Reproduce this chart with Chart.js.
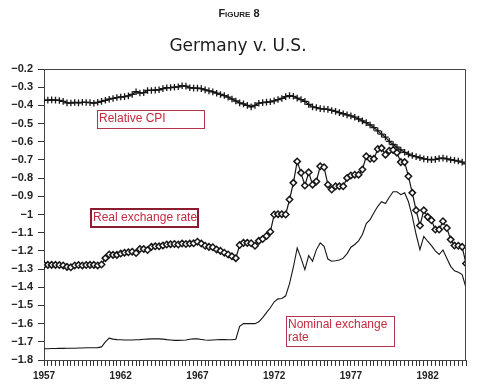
<!DOCTYPE html>
<html>
<head>
<meta charset="utf-8">
<script src="https://cdn.jsdelivr.net/npm/chart.js@4.4.1/dist/chart.umd.min.js"></script>
<style>
  html, body { margin: 0; padding: 0; background: #fff; }
  #wrap { width: 480px; height: 390px; position: relative; }
</style>
</head>
<body>
<div id="wrap"><canvas id="chart"></canvas></div>
<script>
// quarterly series, 1957Q1 .. 1984Q3 (log scale values)
const startYear = 1957;
const perYear = 4;

const relativeCpi = [
  -0.372, -0.371, -0.370, -0.371, -0.373, -0.378, -0.386, -0.387, -0.384, -0.386,
  -0.383, -0.384, -0.385, -0.388, -0.383, -0.378, -0.372, -0.366, -0.362, -0.357,
  -0.354, -0.352, -0.348, -0.340, -0.325, -0.332, -0.330, -0.318, -0.318, -0.316,
  -0.314, -0.308, -0.303, -0.302, -0.300, -0.298, -0.292, -0.294, -0.303, -0.305,
  -0.305, -0.308, -0.315, -0.320, -0.326, -0.333, -0.340, -0.346, -0.355, -0.365,
  -0.376, -0.386, -0.392, -0.400, -0.408, -0.400, -0.388, -0.385, -0.382, -0.380,
  -0.375, -0.368, -0.362, -0.352, -0.346, -0.350, -0.360, -0.368, -0.378, -0.395,
  -0.408, -0.412, -0.418, -0.420, -0.422, -0.428, -0.433, -0.440, -0.446, -0.452,
  -0.458, -0.465, -0.475, -0.485, -0.495, -0.508, -0.522, -0.540, -0.558, -0.575,
  -0.598, -0.615, -0.630, -0.645, -0.658, -0.668, -0.676, -0.682, -0.688, -0.694,
  -0.697, -0.699, -0.697, -0.692, -0.690, -0.694, -0.699, -0.702, -0.706, -0.712, -0.722
];

const realRate = [
  -1.277, -1.277, -1.277, -1.277, -1.278, -1.280, -1.288, -1.290, -1.280, -1.278,
  -1.280, -1.278, -1.277, -1.277, -1.280, -1.275, -1.240, -1.220, -1.222, -1.222,
  -1.215, -1.210, -1.208, -1.205, -1.212, -1.190, -1.190, -1.195, -1.178, -1.175,
  -1.175, -1.170, -1.165, -1.163, -1.162, -1.165, -1.160, -1.162, -1.160, -1.158,
  -1.150, -1.160, -1.172, -1.178, -1.180, -1.192, -1.200, -1.210, -1.220, -1.230,
  -1.240, -1.168, -1.156, -1.156, -1.158, -1.172, -1.145, -1.135, -1.118, -1.095,
  -1.000, -0.998, -0.998, -1.000, -0.918, -0.826, -0.708, -0.771, -0.841, -0.768,
  -0.836, -0.818, -0.735, -0.740, -0.836, -0.863, -0.845, -0.845, -0.845, -0.799,
  -0.785, -0.781, -0.781, -0.753, -0.680, -0.694, -0.694, -0.640, -0.635, -0.671,
  -0.649, -0.645, -0.660, -0.712, -0.712, -0.790, -0.881, -0.977, -1.061, -0.977,
  -1.013, -1.032, -1.083, -1.083, -1.037, -1.074, -1.138, -1.171, -1.172, -1.178, -1.270
];

const nominalRate = [
  -1.738, -1.738, -1.737, -1.737, -1.736, -1.736, -1.735, -1.735, -1.735, -1.734,
  -1.734, -1.733, -1.733, -1.733, -1.732, -1.728, -1.700, -1.680, -1.685, -1.688,
  -1.689, -1.690, -1.690, -1.690, -1.689, -1.688, -1.686, -1.685, -1.684, -1.684,
  -1.684, -1.685, -1.688, -1.690, -1.692, -1.692, -1.691, -1.690, -1.686, -1.684,
  -1.684, -1.687, -1.690, -1.691, -1.690, -1.689, -1.688, -1.688, -1.689, -1.689,
  -1.686, -1.615, -1.600, -1.600, -1.600, -1.600, -1.590, -1.567, -1.540, -1.513,
  -1.480, -1.464, -1.462, -1.447, -1.380, -1.290, -1.184, -1.240, -1.303, -1.226,
  -1.257, -1.193, -1.156, -1.175, -1.245, -1.257, -1.254, -1.250, -1.240, -1.215,
  -1.180, -1.165, -1.145, -1.110, -1.050, -1.028, -0.990, -0.955, -0.930, -0.940,
  -0.905, -0.875, -0.875, -0.891, -0.880, -0.930, -1.010, -1.110, -1.193, -1.120,
  -1.147, -1.171, -1.200, -1.220, -1.195, -1.240, -1.285, -1.310, -1.318, -1.330, -1.403
];

const yearLabels = [1957, 1962, 1967, 1972, 1977, 1982];

const quarters = relativeCpi.map((_, i) => startYear + i / perYear);
const toPoints = (values) => values.map((v, i) => ({ x: quarters[i], y: v }));

const ink = '#161616';
const noteRed = '#c42a40';

const minus = (n) => String(n).replace('-', '\u2212');

// text boxes, anchored by their top-left corner in data units
const notes = [
  { lines: ['Relative CPI'], year: 1960.46, value: -0.428, w: 107, h: 18, lw: 1, edge: '#b2344a' },
  { lines: ['Real exchange rate'], year: 1960.07, value: -0.971, w: 107, h: 18, lw: 2, edge: '#8c1c2e' },
  { lines: ['Nominal exchange', 'rate'], year: 1972.79, value: -1.558, w: 108, h: 30, lw: 1, edge: '#b2344a' }
];

const decorations = {
  id: 'decorations',
  afterDraw(chart) {
    const { ctx, chartArea: a, scales: { x, y } } = chart;
    ctx.save();

    // top and right frame
    ctx.strokeStyle = '#444';
    ctx.lineWidth = 1;
    ctx.beginPath();
    ctx.moveTo(a.left, a.top + 0.5);
    ctx.lineTo(a.right - 0.5, a.top + 0.5);
    ctx.lineTo(a.right - 0.5, a.bottom);
    ctx.stroke();

    // "Figure 8" in small caps
    ctx.fillStyle = '#222';
    ctx.textBaseline = 'alphabetic';
    const big = 'bold 11px "Liberation Sans", Arial, sans-serif';
    const small = 'bold 8px "Liberation Sans", Arial, sans-serif';
    const parts = [['F', big], ['IGURE', small], [' 8', big]];
    let total = 0;
    parts.forEach(([t, f]) => { ctx.font = f; total += ctx.measureText(t).width; });
    let cx = 239 - total / 2;
    parts.forEach(([t, f]) => {
      ctx.font = f;
      ctx.textAlign = 'left';
      ctx.fillText(t, cx, 17);
      cx += ctx.measureText(t).width;
    });

    // main title
    ctx.font = '17px "DejaVu Sans", sans-serif';
    ctx.textAlign = 'center';
    ctx.fillStyle = '#1a1a1a';
    ctx.fillText('Germany v. U.S.', 238, 51);

    // series notes
    notes.forEach(n => {
      const left = Math.round(x.getPixelForValue(n.year));
      const top = Math.round(y.getPixelForValue(n.value));
      ctx.fillStyle = '#fff';
      ctx.fillRect(left, top, n.w, n.h);
      ctx.strokeStyle = n.edge;
      ctx.lineWidth = n.lw;
      const off = n.lw === 1 ? 0.5 : 0;
      ctx.strokeRect(left + off, top + off, n.w, n.h);
      ctx.fillStyle = noteRed;
      ctx.font = '12px "Liberation Sans", Arial, sans-serif';
      ctx.textAlign = 'left';
      ctx.textBaseline = 'middle';
      n.lines.forEach((line, k) => ctx.fillText(line, left + 2, top + 9 + k * 13));
    });

    ctx.restore();
  }
};

new Chart(document.getElementById('chart'), {
  type: 'line',
  data: {
    datasets: [
      {
        label: 'Relative CPI',
        data: toPoints(relativeCpi),
        borderColor: ink,
        borderWidth: 1.2,
        pointStyle: 'cross',
        pointRadius: 3.3,
        pointBorderColor: ink,
        pointBorderWidth: 1.3,
        tension: 0
      },
      {
        label: 'Real exchange rate',
        data: toPoints(realRate),
        borderColor: ink,
        borderWidth: 1.2,
        pointStyle: 'rectRot',
        pointRadius: 3.2,
        pointBackgroundColor: '#fff',
        pointBorderColor: ink,
        pointBorderWidth: 1.5,
        tension: 0
      },
      {
        label: 'Nominal exchange rate',
        data: toPoints(nominalRate),
        borderColor: ink,
        borderWidth: 1.1,
        pointRadius: 0,
        tension: 0
      }
    ]
  },
  options: {
    responsive: true,
    maintainAspectRatio: false,
    animation: false,
    layout: { padding: { top: 69, right: 14, left: 0, bottom: 0 } },
    plugins: {
      legend: { display: false },
      tooltip: { enabled: false }
    },
    scales: {
      x: {
        type: 'linear',
        min: 1957,
        max: 1984.5,
        afterFit: s => { s.height = 30; },
        border: { display: true, color: '#444', width: 1 },
        grid: { drawOnChartArea: false, drawTicks: true, tickLength: 6, color: '#333' },
        ticks: {
          stepSize: 1 / perYear,
          autoSkip: false,
          maxRotation: 0,
          minRotation: 0,
          includeBounds: false,
          padding: 4,
          color: '#222',
          font: { family: '"Liberation Sans", Arial, sans-serif', size: 10, weight: 'bold' },
          callback: v => (yearLabels.includes(v) ? String(v) : '')
        }
      },
      y: {
        min: -1.8,
        max: -0.2,
        afterFit: s => { s.width = 44; },
        border: { display: true, color: '#444', width: 1 },
        grid: { drawOnChartArea: false, drawTicks: true, tickLength: 6, color: '#333' },
        ticks: {
          stepSize: 0.1,
          padding: 5,
          color: '#222',
          font: { family: '"Liberation Sans", Arial, sans-serif', size: 11, weight: 'bold' },
          callback: v => minus(Math.round(v * 10) / 10)
        }
      }
    }
  },
  plugins: [decorations]
});
</script>
</body>
</html>
